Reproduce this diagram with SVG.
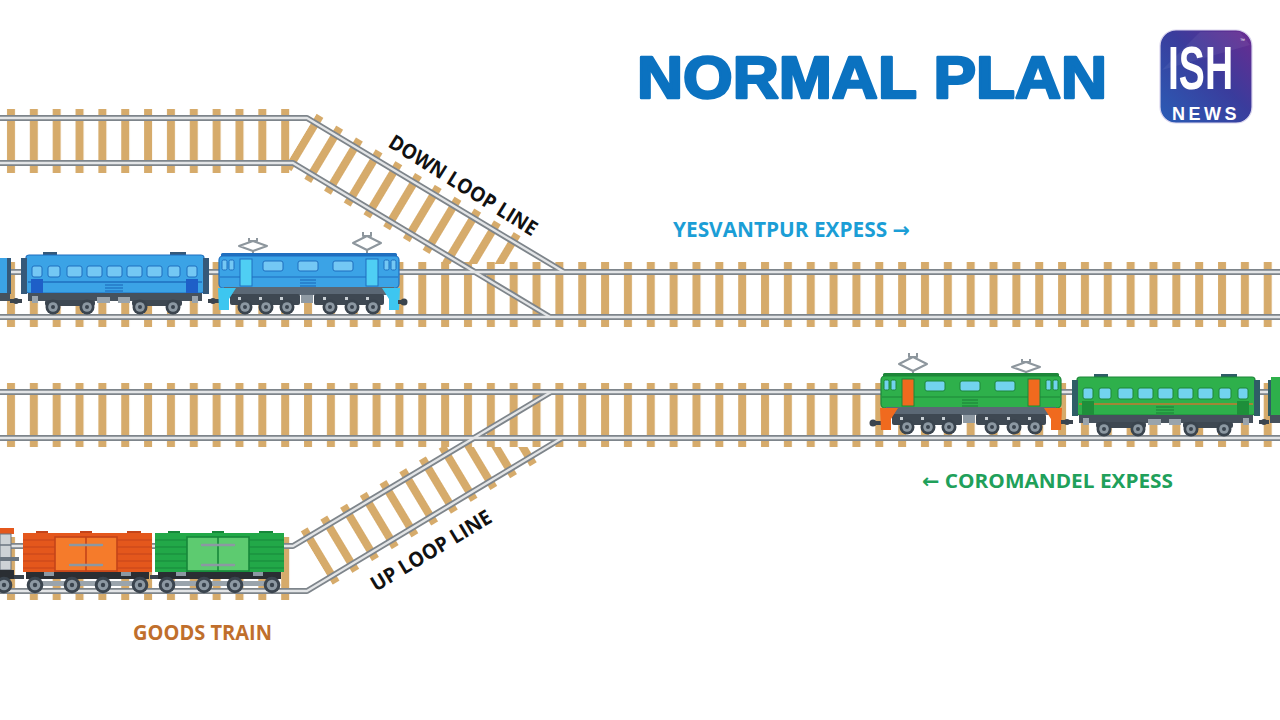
<svg xmlns="http://www.w3.org/2000/svg" xmlns:xlink="http://www.w3.org/1999/xlink" width="1280" height="720" viewBox="0 0 1280 720">
<style>
.rail{fill:none;stroke:#7E858B;stroke-width:6;stroke-linejoin:round}
.railIn{fill:none;stroke:#E3E5E7;stroke-width:2.4;stroke-linejoin:round}
.lbl{font-family:"Open Sans","DejaVu Sans",sans-serif;font-weight:700}
.vent{stroke:var(--dark);stroke-width:1.2}
.panto{fill:none;stroke:#8D969D;stroke-width:2;stroke-linejoin:round}
.cpl{fill:#3A444E}
</style>
<defs>
<pattern id="tiesH" patternUnits="userSpaceOnUse" x="0" y="0" width="22.85" height="720">
<rect x="7" y="0" width="8" height="720" fill="#D6AB6B"/>
</pattern>
<pattern id="tiesD1" patternUnits="userSpaceOnUse" x="6" y="-31" width="23" height="62">
<rect x="0" y="0" width="8" height="62" fill="#D6AB6B"/>
</pattern>
<pattern id="tiesD2" patternUnits="userSpaceOnUse" x="14" y="-31" width="23" height="62">
<rect x="0" y="0" width="8" height="62" fill="#D6AB6B"/>
</pattern>
<clipPath id="clipTop" clipPathUnits="userSpaceOnUse"><rect x="0" y="0" width="1280" height="264"/></clipPath>
<clipPath id="clipUp" clipPathUnits="userSpaceOnUse"><rect x="0" y="447" width="1280" height="273"/></clipPath>
<linearGradient id="lg" x1="0" y1="1" x2="1" y2="0">
<stop offset="0" stop-color="#2A5DB6"/><stop offset="0.55" stop-color="#3A3C9C"/><stop offset="1" stop-color="#6B2B90"/>
</linearGradient>
<path id="r1" d="M0,118 H307 L564,272"/>
<path id="r2" d="M0,163 H293 L550,317"/>
<path id="r3" d="M0,272 H1280"/>
<path id="r4" d="M0,317 H1280"/>
<path id="r5" d="M0,392 H1280"/>
<path id="r6" d="M0,438 H1280"/>
<path id="r7" d="M0,546 H293 L551,392"/>
<path id="r8" d="M0,591 H307 L562,438"/>
<g id="wh"><circle r="7.5" fill="#3A444E"/><circle r="4.8" fill="#8C98A2"/><circle r="2" fill="#3A444E"/></g>
<g id="wh8"><circle r="8.3" fill="#3A444E"/><circle r="5.3" fill="#8C98A2"/><circle r="2.2" fill="#3A444E"/></g>
<g id="loco">
<rect x="221" y="253" width="176" height="4" rx="1.5" fill="var(--dark)"/>
<rect x="219" y="256" width="180" height="32" rx="4" fill="var(--body)" stroke="var(--dark)" stroke-width="1.2"/>
<line x1="220" y1="277" x2="398" y2="277" stroke="var(--dark)" stroke-width="1.2"/>
<g fill="var(--win)" stroke="var(--dark)" stroke-width="1">
<rect x="222" y="260" width="5" height="10" rx="1.5"/><rect x="229" y="260" width="5" height="10" rx="1.5"/>
<rect x="384" y="260" width="5" height="10" rx="1.5"/><rect x="391" y="260" width="5" height="10" rx="1.5"/>
<rect x="263" y="261" width="20" height="10" rx="2"/><rect x="298" y="261" width="20" height="10" rx="2"/><rect x="333" y="261" width="20" height="10" rx="2"/>
</g>
<rect x="240" y="259" width="12" height="27" fill="var(--door)" stroke="var(--dark)" stroke-width="1"/>
<rect x="366" y="259" width="12" height="27" fill="var(--door)" stroke="var(--dark)" stroke-width="1"/>
<line class="vent" x1="300" y1="280" x2="316" y2="280"/><line class="vent" x1="300" y1="283" x2="316" y2="283"/><line class="vent" x1="300" y1="286" x2="316" y2="286"/>
<rect x="224" y="287" width="170" height="8" fill="#5B6875"/>
<rect x="230" y="294" width="70" height="11" rx="2" fill="#3E4852"/>
<rect x="314" y="294" width="70" height="11" rx="2" fill="#3E4852"/>
<rect x="301" y="295" width="12" height="8" fill="#8F9AA3"/>
<g fill="#C9D0D5"><rect x="238" y="297" width="3" height="3"/><rect x="259" y="297" width="3" height="3"/><rect x="280" y="297" width="3" height="3"/><rect x="323" y="297" width="3" height="3"/><rect x="345" y="297" width="3" height="3"/><rect x="366" y="297" width="3" height="3"/></g>
<polygon points="218,288 236,288 229,299 229,310 219,310" fill="var(--skirt)"/>
<polygon points="400,288 382,288 389,299 389,310 399,310" fill="var(--skirt)"/>
<use xlink:href="#wh" x="245" y="307"/><use xlink:href="#wh" x="266" y="307"/><use xlink:href="#wh" x="287" y="307"/>
<use xlink:href="#wh" x="330" y="307"/><use xlink:href="#wh" x="352" y="307"/><use xlink:href="#wh" x="373" y="307"/>
</g>
<g id="coach">
<rect x="43" y="252" width="14" height="4" fill="var(--cap)"/><rect x="170" y="252" width="16" height="4" fill="var(--cap)"/>
<rect x="26" y="255" width="178" height="38" rx="3" fill="var(--body)" stroke="var(--dark)" stroke-width="1.2"/>
<rect x="21" y="258" width="6" height="36" fill="var(--cap)"/><rect x="203" y="258" width="6" height="36" fill="var(--cap)"/>
<line x1="28" y1="282" x2="202" y2="282" stroke="var(--stripe)" stroke-width="1.6"/>
<g fill="var(--win)" stroke="var(--dark)" stroke-width="1">
<rect x="32" y="266" width="10" height="11" rx="2"/><rect x="48" y="266" width="12" height="11" rx="2"/>
<rect x="67" y="266" width="15" height="11" rx="2"/><rect x="87" y="266" width="15" height="11" rx="2"/>
<rect x="107" y="266" width="15" height="11" rx="2"/><rect x="127" y="266" width="15" height="11" rx="2"/>
<rect x="147" y="266" width="15" height="11" rx="2"/><rect x="168" y="266" width="12" height="11" rx="2"/>
<rect x="187" y="266" width="10" height="11" rx="2"/>
</g>
<rect x="31" y="279" width="12" height="14" fill="var(--door)"/><rect x="186" y="279" width="12" height="14" fill="var(--door)"/>
<line class="vent" x1="105" y1="285" x2="123" y2="285"/><line class="vent" x1="105" y1="288" x2="123" y2="288"/><line class="vent" x1="105" y1="291" x2="123" y2="291"/>
<rect x="28" y="293" width="174" height="8" fill="#46515C"/>
<rect x="97" y="297" width="13" height="6" fill="#9AA4AC"/><rect x="118" y="297" width="12" height="6" fill="#9AA4AC"/>
<rect x="32" y="296" width="6" height="7" fill="#9AA4AC"/><rect x="192" y="296" width="6" height="7" fill="#9AA4AC"/>
<rect x="45" y="300" width="50" height="6" rx="2" fill="#3E4852"/><rect x="132" y="300" width="50" height="6" rx="2" fill="#3E4852"/>
<use xlink:href="#wh" x="53" y="307"/><use xlink:href="#wh" x="87" y="307"/><use xlink:href="#wh" x="140" y="307"/><use xlink:href="#wh" x="173" y="307"/>
</g>
<g id="wagon">
<rect x="36" y="531" width="12" height="3" fill="var(--dark)"/><rect x="127" y="531" width="14" height="3" fill="var(--dark)"/><rect x="80" y="531" width="12" height="3" fill="var(--dark)"/>
<rect x="23" y="533" width="129" height="39" fill="var(--body)"/>
<g stroke="var(--dark)" stroke-width="1"><line x1="23" y1="540" x2="152" y2="540"/><line x1="23" y1="547" x2="152" y2="547"/><line x1="23" y1="554" x2="152" y2="554"/><line x1="23" y1="561" x2="152" y2="561"/><line x1="23" y1="568" x2="152" y2="568"/></g>
<rect x="55" y="537" width="62" height="34" fill="var(--door)" stroke="var(--dark)" stroke-width="1.6"/>
<line x1="86" y1="537" x2="86" y2="571" stroke="var(--dark)" stroke-width="1.6"/>
<g stroke="#8C98A2" stroke-width="2.4" stroke-linecap="round"><line x1="70" y1="545" x2="102" y2="545"/><line x1="70" y1="565" x2="102" y2="565"/></g>
<rect x="26" y="572" width="123" height="7" fill="#2A2E33"/>
<rect x="44" y="572" width="10" height="4" fill="#8C98A2"/><rect x="121" y="572" width="10" height="4" fill="#8C98A2"/>
<rect x="30" y="581" width="117" height="5" fill="#9AA4AC"/>
<use xlink:href="#wh8" x="35" y="585"/><use xlink:href="#wh8" x="72" y="585"/><use xlink:href="#wh8" x="103" y="585"/><use xlink:href="#wh8" x="140" y="585"/>
</g>
</defs>

<rect width="1280" height="720" fill="#FFFFFF"/>

<g id="tracks">
<g id="ties">
<rect x="0" y="109" width="292" height="64" fill="url(#tiesH)"/>
<rect x="0" y="262" width="1280" height="65" fill="url(#tiesH)"/>
<rect x="0" y="383" width="1280" height="64" fill="url(#tiesH)"/>
<rect x="0" y="537" width="292" height="63" fill="url(#tiesH)"/>
<g clip-path="url(#clipTop)"><g transform="translate(295.4,137.3) rotate(30.96)"><rect x="6" y="-31" width="242" height="62" fill="url(#tiesD1)"/></g></g>
<g clip-path="url(#clipUp)"><g transform="translate(304.6,565.3) rotate(-30.96)"><rect x="14" y="-31" width="242" height="62" fill="url(#tiesD2)"/></g></g>
</g>
<g id="rails">
<use xlink:href="#r1" class="rail"/><use xlink:href="#r2" class="rail"/><use xlink:href="#r3" class="rail"/><use xlink:href="#r4" class="rail"/>
<use xlink:href="#r5" class="rail"/><use xlink:href="#r6" class="rail"/><use xlink:href="#r7" class="rail"/><use xlink:href="#r8" class="rail"/>
<use xlink:href="#r1" class="railIn"/><use xlink:href="#r2" class="railIn"/><use xlink:href="#r3" class="railIn"/><use xlink:href="#r4" class="railIn"/>
<use xlink:href="#r5" class="railIn"/><use xlink:href="#r6" class="railIn"/><use xlink:href="#r7" class="railIn"/><use xlink:href="#r8" class="railIn"/>
</g>
</g>

<g id="yesvantpur-train">
<rect x="0" y="258" width="8" height="36" fill="#3BA3E6"/><rect x="7" y="258" width="4" height="36" fill="#35597A"/>
<rect x="0" y="293" width="10" height="8" fill="#46515C"/>
<rect x="10" y="299" width="12" height="4" class="cpl"/><circle cx="16" cy="301" r="3" class="cpl"/>
<use xlink:href="#coach" style="--body:#3BA3E6;--dark:#1F6FBF;--cap:#35597A;--door:#1E5FC8;--stripe:#1F6FBF;--win:#74C8F4"/>
<rect x="208" y="299" width="11" height="4" class="cpl"/><circle cx="213" cy="301" r="3" class="cpl"/>
<g class="panto"><path d="M239,246 L253,241 L267,246 L253,251 Z"/><path d="M249,238 V241 H257 V238"/><path d="M253,251 V254 M246,254 H260"/></g>
<g class="panto"><path d="M353,243 L367,236 L381,243 L367,250 Z"/><path d="M363,232 V236 H371 V232"/><path d="M367,250 V254 M360,254 H374"/></g>
<use xlink:href="#loco" style="--body:#3BA3E6;--dark:#1F6FBF;--win:#74C8F4;--door:#4FCFF4;--skirt:#3DC6F0"/>
<rect x="398" y="300" width="6" height="4" class="cpl"/><circle cx="404" cy="302" r="3.5" class="cpl"/>
</g>

<g id="coromandel-train">
<rect x="873" y="421" width="8" height="4" class="cpl"/><circle cx="873" cy="423" r="3.5" class="cpl"/>
<g class="panto"><path d="M899,364 L913,357 L927,364 L913,371 Z"/><path d="M909,353 V357 H917 V353"/><path d="M913,371 V374 M906,374 H920"/></g>
<g class="panto"><path d="M1012,367 L1026,362 L1040,367 L1026,372 Z"/><path d="M1022,359 V362 H1030 V359"/><path d="M1026,372 V374 M1019,374 H1033"/></g>
<g transform="translate(662,120)"><use xlink:href="#loco" style="--body:#2EB04B;--dark:#1D8639;--win:#72D3EE;--door:#F06A1E;--skirt:#F06A1E"/></g>
<rect x="1061" y="420" width="12" height="4" class="cpl"/><circle cx="1067" cy="422" r="3" class="cpl"/>
<g transform="translate(1051,122)"><use xlink:href="#coach" style="--body:#2EB04B;--dark:#1D8639;--cap:#2F5D66;--door:#1E8F3A;--stripe:#C9782F;--win:#72D3EE"/></g>
<rect x="1259" y="420" width="10" height="4" class="cpl"/><circle cx="1264" cy="422" r="3" class="cpl"/>
<rect x="1268" y="380" width="4" height="36" fill="#2F5D66"/><rect x="1271" y="377" width="9" height="40" fill="#2EB04B"/>
<rect x="1270" y="415" width="10" height="8" fill="#46515C"/>
</g>

<g id="goods-train">
<rect x="0" y="528" width="14" height="6" fill="#E4571C"/>
<rect x="0" y="534" width="11" height="36" fill="#CDD2D6" stroke="#6A7580" stroke-width="1"/>
<line x1="0" y1="545" x2="11" y2="545" stroke="#6A7580" stroke-width="1.5"/>
<rect x="0" y="557" width="19" height="4" fill="#6A7580"/>
<rect x="0" y="570" width="14" height="9" fill="#2A2E33"/>
<use xlink:href="#wh8" x="4" y="585"/>
<rect x="14" y="575" width="10" height="4" class="cpl"/>
<use xlink:href="#wagon" style="--body:#E4571C;--dark:#C4441A;--door:#F57B2B"/>
<rect x="150" y="575" width="8" height="4" class="cpl"/>
<g transform="translate(132,0)"><use xlink:href="#wagon" style="--body:#22A848;--dark:#17873A;--door:#5DCB70"/></g>
</g>

<g id="labels">
<text x="637" y="98" font-family="Liberation Sans, Arial, sans-serif" font-weight="700" font-size="59" fill="#0B72C0" stroke="#0B72C0" stroke-width="2.6" stroke-linejoin="round" textLength="470" lengthAdjust="spacingAndGlyphs">NORMAL PLAN</text>
<text class="lbl" transform="translate(387,146) rotate(32)" font-size="20.5" fill="#111111" textLength="171" lengthAdjust="spacingAndGlyphs">DOWN LOOP LINE</text>
<text class="lbl" transform="translate(376,592) rotate(-31)" font-size="20.5" fill="#111111" textLength="137" lengthAdjust="spacingAndGlyphs">UP LOOP LINE</text>
<text class="lbl" x="673" y="237" font-size="20.5" fill="#1B9ED6" textLength="237" lengthAdjust="spacingAndGlyphs">YESVANTPUR EXPESS →</text>
<text class="lbl" x="922" y="488" font-size="20" fill="#20A05A" textLength="251" lengthAdjust="spacingAndGlyphs">← COROMANDEL EXPESS</text>
<text class="lbl" x="133" y="640" font-size="20.5" fill="#C06F2C" textLength="139" lengthAdjust="spacingAndGlyphs">GOODS TRAIN</text>
</g>

<g id="logo">
<rect x="1160" y="30" width="92" height="93" rx="16" fill="url(#lg)" stroke="#D9D4EE" stroke-width="1.2"/>
<polygon points="1162,70 1200,32 1240,32 1250,45" fill="#FFFFFF" opacity="0.06"/>
<text transform="translate(1168,89) scale(0.63,1)" font-family="Liberation Sans, Arial, sans-serif" font-weight="700" font-size="62" fill="#FFFFFF">ISH</text>
<text x="1240" y="42" font-family="Liberation Sans, Arial, sans-serif" font-size="5" fill="#FFFFFF">™</text>
<text x="1172" y="119.5" font-family="Liberation Sans, Arial, sans-serif" font-weight="700" font-size="18" letter-spacing="3.5" fill="#FFFFFF">NEWS</text>
</g>
</svg>
